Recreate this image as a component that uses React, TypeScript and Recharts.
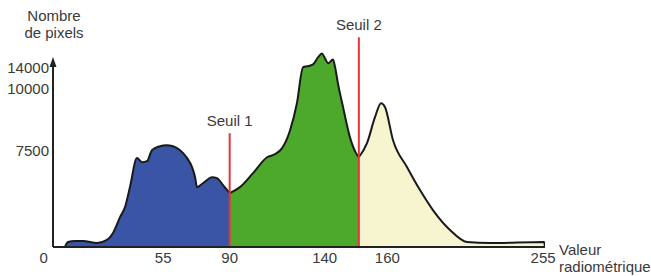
import React from "react";
import { Area, AreaChart, ReferenceLine, XAxis, YAxis } from "recharts";

// class 1 (below seuil 1)
const class1Values = [3.3, 4.9, 8.6, 12.8, 20.2, 25.4, 28.6, 32.3, 34.9, 37.5, 41.2, 43.9, 46.5, 49.1, 53.3, 56.7, 60.2, 63.9, 67.6, 70.2, 71.8, 72.8, 76.0, 80.7, 83.3, 86.5, 90];
const class1Counts = [0, 390, 470, 470, 310, 550, 1090, 2340, 3120, 4680, 6950, 6630, 6710, 7570, 7880, 7960, 7880, 7570, 6950, 6240, 5460, 4680, 4990, 5460, 5390, 4840, 4210];

// class 2 (between seuils)
const class2Values = [90, 95.4, 102.3, 109.7, 113.9, 117.6, 121.8, 125.4, 128.6, 130.7, 133.9, 136.5, 138.6, 140.2, 141.8, 144.4, 145.5, 147.0, 149.7, 153.3, 156.5, 158];
const class2Counts = [4210, 4680, 5780, 7020, 7260, 7730, 9130, 11240, 14050, 14130, 14280, 14830, 15140, 14750, 14360, 14670, 14050, 12800, 10930, 8590, 7340, 7020];

// class 3 (above seuil 2)
const class3Values = [158, 162.3, 166.5, 169.7, 171.8, 176.0, 183.4, 190.2, 197.0, 206.0, 214.9, 227.1, 255.5, 256];
const class3Counts = [7020, 8120, 10150, 11240, 10930, 8350, 6240, 4450, 2890, 1330, 390, 310, 390, 0];

const thresholds = [90, 158];
const thresholdTops = [8900, 16400];
const thresholdLabels = ["Seuil 1", "Seuil 2"];

const xTicks = [0, 55, 90, 140, 173, 255];
const xTickLabels = ["0", "55", "90", "140", "160", "255"];
const yTicks = [7500, 12400, 14000];
const yTickLabels = ["7500", "10000", "14000"];

const rows: Record<string, number>[] = [];
class1Values.forEach((v, i) => rows.push({ x: v, c1: class1Counts[i] }));
class2Values.forEach((v, i) => rows.push({ x: v, c2: class2Counts[i] }));
class3Values.forEach((v, i) => rows.push({ x: v, c3: class3Counts[i] }));

const FONT = "'Liberation Sans', Arial, Helvetica, sans-serif";
const TEXT = "#3a3a3a";

function XTick(props: any) {
  const { x, y, index } = props;
  return (
    <text x={index === 0 ? x - 15 : x} y={y} dy={15.5} textAnchor="middle" fontSize={15} fill={TEXT} fontFamily={FONT}>
      {xTickLabels[index]}
    </text>
  );
}

function YTick(props: any) {
  const { x, y, index } = props;
  return (
    <text x={x} y={y} dy={5.3} textAnchor="end" fontSize={15} fill={TEXT} fontFamily={FONT}>
      {yTickLabels[index]}
    </text>
  );
}

function ArrowAxis(props: any) {
  const { x1, y1, x2, y2 } = props;
  return (
    <g>
      <line x1={x1} y1={y1} x2={x2} y2={y2 + 4} stroke="#222" strokeWidth={2} />
      <path d={`M${x2 - 3.5},${y2 + 10} L${x2},${y2} L${x2 + 3.5},${y2 + 10} Z`} fill="#222" />
    </g>
  );
}

export default function App() {
  return (
    <div style={{ position: "absolute", left: 0, top: 0, width: 651, height: 276, fontFamily: FONT, background: "#fff" }}>
      <AreaChart width={651} height={276} data={rows} margin={{ top: 36, right: 106, bottom: 1, left: 0 }}>
        <XAxis
          dataKey="x"
          type="number"
          domain={[-3, 256]}
          allowDataOverflow
          ticks={xTicks}
          interval={0}
          height={28}
          tickSize={0}
          tickMargin={0}
          tickLine={false}
          axisLine={{ stroke: "#222", strokeWidth: 2 }}
          tick={<XTick />}
        />
        <YAxis
          type="number"
          domain={[0, 16500]}
          allowDataOverflow
          ticks={yTicks}
          interval={0}
          width={53}
          tickSize={2}
          tickMargin={2}
          tickLine={false}
          axisLine={false}
          tick={<YTick />}
        />
        <Area type="monotone" dataKey="c1" stroke="#1a1a1a" strokeWidth={2} fill="#3a55a5" fillOpacity={1} dot={false} activeDot={false} isAnimationActive={false} />
        <Area type="monotone" dataKey="c2" stroke="#1a1a1a" strokeWidth={2} fill="#4ca92c" fillOpacity={1} dot={false} activeDot={false} isAnimationActive={false} />
        <Area type="monotone" dataKey="c3" stroke="#1a1a1a" strokeWidth={2} fill="#f7f5cf" fillOpacity={1} dot={false} activeDot={false} isAnimationActive={false} />
        {thresholds.map((t, i) => (
          <ReferenceLine
            key={t}
            segment={[{ x: t, y: 0 }, { x: t, y: thresholdTops[i] }]}
            stroke="#e3343a"
            strokeWidth={2}
            ifOverflow="visible"
            label={{ value: thresholdLabels[i], position: "top", offset: 7, fill: TEXT, fontSize: 15, fontFamily: FONT }}
          />
        ))}
        <ReferenceLine segment={[{ x: -3, y: 0 }, { x: -3, y: 14860 }]} ifOverflow="visible" shape={<ArrowAxis />} />
      </AreaChart>
      <div style={{ position: "absolute", left: 14, top: 7, width: 80, textAlign: "center", fontSize: 15, lineHeight: "17px", color: TEXT }}>
        Nombre
        <br />
        de pixels
      </div>
      <div style={{ position: "absolute", left: 559, top: 241, fontSize: 15, lineHeight: "17px", color: TEXT, whiteSpace: "nowrap" }}>
        Valeur
        <br />
        radiométrique
      </div>
    </div>
  );
}
